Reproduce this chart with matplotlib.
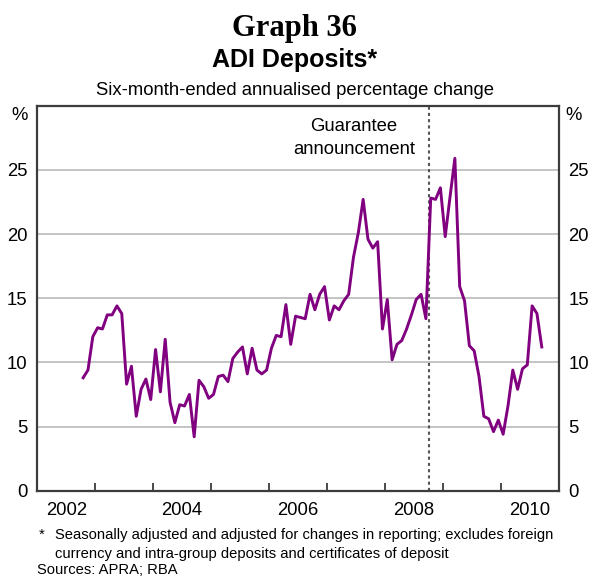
import numpy as np
import matplotlib.pyplot as plt

plt.rcParams['font.family'] = 'Liberation Sans'

# ADI deposits, six-month-ended annualised % change, monthly Oct 2002 - Sep 2010
growth = [8.8, 9.4, 12.0, 12.7, 12.6, 13.7, 13.7, 14.4, 13.8, 8.3, 9.7, 5.8,
          7.9, 8.7, 7.1, 11.0, 7.7, 11.8, 6.9, 5.3, 6.7, 6.6, 7.5, 4.2,
          8.6, 8.1, 7.2, 7.5, 8.9, 9.0, 8.5, 10.3, 10.8, 11.2, 9.1, 11.1,
          9.4, 9.1, 9.4, 11.1, 12.1, 12.0, 14.5, 11.4, 13.6, 13.5, 13.4, 15.3,
          14.1, 15.3, 15.9, 13.3, 14.4, 14.1, 14.8, 15.3, 18.2, 20.1, 22.7, 19.6,
          18.9, 19.4, 12.6, 14.9, 10.2, 11.4, 11.7, 12.6, 13.7, 14.9, 15.3, 13.4,
          22.8, 22.7, 23.6, 19.8, 22.9, 25.9, 15.9, 14.8, 11.3, 10.9, 8.9, 5.8,
          5.6, 4.6, 5.5, 4.4, 6.6, 9.4, 7.9, 9.5, 9.8, 14.4, 13.8, 11.2]
first_month = 2002 + 9.5 / 12
months = first_month + np.arange(len(growth)) / 12

guarantee = 2008.76  # bank guarantee announced, Oct 2008
year_labels = ['2002', '2004', '2006', '2008', '2010']
y_ticks = [0, 5, 10, 15, 20, 25]

purple = '#800080'
dark = '#3c3c3c'

fig = plt.figure(figsize=(5.89, 5.76), dpi=100)
ax = fig.add_axes([0.0633, 0.1481, 0.8852, 0.6684])

ax.plot(months, growth, color=purple, lw=2.1, zorder=3)
ax.axvline(guarantee, color='#555555', ls=(0, (1.5, 1.5)), lw=1.5, zorder=2)

ax.set_xlim(2002, 2011)
ax.set_ylim(0, 30)

# y axis: labels on both sides, gridlines only
ax.set_yticks(y_ticks)
ax.yaxis.grid(True, color='#b4b4b4', lw=1.1)
ax.set_axisbelow(True)
ax.tick_params(axis='y', length=0, labelsize=13.3, labelleft=True,
               labelright=True, pad=7)

# x axis: ticks at year boundaries, labels centred on the year
ax.set_xticks(range(2003, 2011))
ax.set_xticklabels([])
ax.tick_params(axis='x', which='major', direction='in', length=6,
               width=1.3, color=dark)
ax.set_xticks([int(y) + 0.5 for y in year_labels], minor=True)
ax.set_xticklabels(year_labels, minor=True)
ax.tick_params(axis='x', which='minor', length=0, labelsize=13.3, pad=8)

for s in ax.spines.values():
    s.set_color(dark)
    s.set_linewidth(1.6)

ax.text(2007.47, 28.35, 'Guarantee', ha='center', va='center', fontsize=13.3)
ax.text(2007.47, 26.55, 'announcement', ha='center', va='center',
        fontsize=13.3)

fig.text(0.034, 0.80, '%', ha='center', va='center', fontsize=13.3)
fig.text(0.973, 0.80, '%', ha='center', va='center', fontsize=13.3)

fig.text(0.5, 0.937, 'Graph 36', ha='center', va='baseline',
         fontsize=22, fontweight='bold', family='Liberation Serif')
fig.text(0.5, 0.884, 'ADI Deposits*', ha='center', va='baseline',
         fontsize=18, fontweight='bold')
fig.text(0.5, 0.835, 'Six-month-ended annualised percentage change',
         ha='center', va='baseline', fontsize=13.3)

fig.text(0.066, 0.071, '*', ha='left', va='center', fontsize=10.6)
fig.text(0.094, 0.071, 'Seasonally adjusted and adjusted for changes in '
         'reporting; excludes foreign', ha='left', va='center', fontsize=10.6)
fig.text(0.094, 0.039, 'currency and intra-group deposits and certificates '
         'of deposit', ha='left', va='center', fontsize=10.6)
fig.text(0.063, 0.010, 'Sources: APRA; RBA', ha='left', va='center',
         fontsize=10.6)

fig.savefig('out.png', dpi=100)
